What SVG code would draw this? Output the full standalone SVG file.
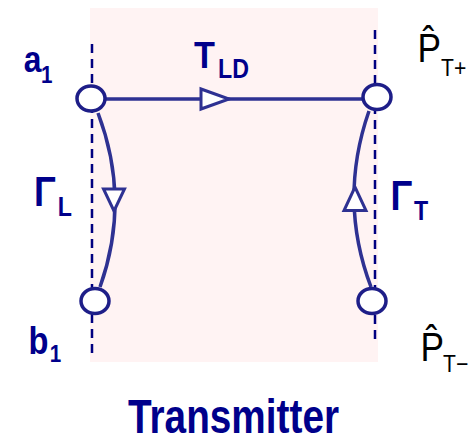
<svg xmlns="http://www.w3.org/2000/svg" width="471" height="439" viewBox="0 0 471 439">
<style>
.lbl{font-family:"Liberation Sans",Arial,sans-serif;font-weight:bold;fill:#00008b}
.pl{font-family:"Liberation Sans",Arial,sans-serif;fill:#000}
.dash{stroke:#000080;stroke-width:2.5;stroke-dasharray:9 6;fill:none}
.wire{stroke:#2e3192;stroke-width:3.5;fill:none}
.arr{stroke:#2e3192;stroke-width:3;fill:#fff;stroke-linejoin:miter}
.node{stroke:#1e1e88;stroke-width:3.5;fill:#fff}
</style>
<rect id="transmitter-box" x="90" y="8" width="288" height="354" fill="#fff3f3"/>
<g id="ports">
<line class="dash" x1="92" y1="44" x2="92" y2="353"/>
<line class="dash" x1="375" y1="30" x2="375" y2="340"/>
</g>
<g id="connectors">
<line class="wire" x1="105" y1="99" x2="363" y2="99"/>
<polygon class="arr" points="201,89 201,109 229,99"/>
<path class="wire" d="M98,113 Q131,200 100,287"/>
<polygon class="arr" points="103.5,189 124.5,189 114,211"/>
<path class="wire" d="M369,111 Q338,200 371,287"/>
<polygon class="arr" points="344,210.5 366,210.5 355,187"/>
</g>
<g id="node-a1"><ellipse class="node" cx="91" cy="98.5" rx="14" ry="12.5"/></g>
<g id="node-pt-plus"><ellipse class="node" cx="377" cy="97" rx="14" ry="12.5"/></g>
<g id="node-b1"><ellipse class="node" cx="95" cy="301" rx="14" ry="12.5"/></g>
<g id="node-pt-minus"><ellipse class="node" cx="372" cy="301" rx="14" ry="12.5"/></g>
<g id="labels">
<text class="lbl" font-size="37" transform="translate(23.7,71.7) scale(0.86,1)">a</text>
<text class="lbl" font-size="24" transform="translate(41,82.7) scale(0.86,1)">1</text>
<text class="lbl" font-size="36" transform="translate(194,68) scale(0.95,1)">T</text>
<text class="lbl" font-size="27" transform="translate(218,78.3) scale(0.86,1)">LD</text>
<text class="lbl" font-size="42" transform="translate(34,205.7) scale(0.86,1)">Γ</text>
<text class="lbl" font-size="27" transform="translate(57.7,215.7) scale(0.86,1)">L</text>
<text class="lbl" font-size="42" transform="translate(390.5,210) scale(0.86,1)">Γ</text>
<text class="lbl" font-size="27" transform="translate(414,220) scale(0.86,1)">T</text>
<text class="lbl" font-size="38" transform="translate(28.5,354.3) scale(0.86,1)">b</text>
<text class="lbl" font-size="24" transform="translate(49.7,361.7) scale(0.86,1)">1</text>
<text class="pl" font-size="40" transform="translate(417.5,62) scale(0.88,1)">P̂</text>
<text class="pl" font-size="24" transform="translate(441,76) scale(0.88,1)">T+</text>
<text class="pl" font-size="40" transform="translate(420.5,361) scale(0.88,1)">P̂</text>
<text class="pl" font-size="24" transform="translate(443,372) scale(0.88,1)">T−</text>
<text class="lbl" font-size="48" x="128" y="433" textLength="211" lengthAdjust="spacingAndGlyphs">Transmitter</text>
</g>
</svg>
